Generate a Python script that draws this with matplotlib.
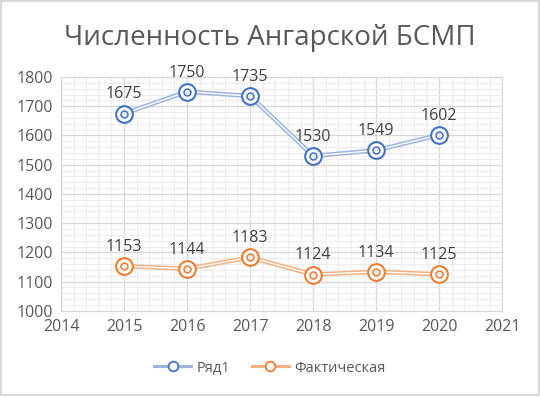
import matplotlib.pyplot as plt
from matplotlib.ticker import MultipleLocator
from matplotlib.patches import Rectangle

plt.rcParams['font.family'] = ['Open Sans', 'DejaVu Sans']

years = [2015, 2016, 2017, 2018, 2019, 2020]
ryad1 = [1675, 1750, 1735, 1530, 1549, 1602]
fakt = [1153, 1144, 1183, 1124, 1134, 1125]

series = [("Ряд1", ryad1, "#4472C4", "#9DB3E0"),
          ("Фактическая", fakt, "#ED7D31", "#F4B183")]

fig = plt.figure(figsize=(5.4, 3.97), dpi=100)
fig.patches.append(Rectangle((0.002, 0.004), 0.996, 0.994, transform=fig.transFigure,
                             fill=False, edgecolor="#D9D9D9", linewidth=1.5))
ax = fig.add_axes([0.113, 0.217, 0.817, 0.589])

for name, vals, dark, light in series:
    # double line: thick coloured line with a thin white line inside
    ax.plot(years, vals, color=light, linewidth=3.2, zorder=3)
    ax.plot(years, vals, color="white", linewidth=1.0, zorder=3)
    ax.plot(years, vals, linestyle="none", marker="o", markersize=12,
            markerfacecolor="white", markeredgecolor=dark, markeredgewidth=1.5, zorder=4)
    ax.plot(years, vals, linestyle="none", marker="o", markersize=5,
            markerfacecolor="#EEEEEE", markeredgecolor=dark, markeredgewidth=1.1, zorder=5)
    for x, y in zip(years, vals):
        ax.annotate(str(y), (x, y), xytext=(0, 8), textcoords="offset points",
                    ha="center", va="bottom", fontsize=11.5, color="#404040")

ax.set_xlim(2014, 2021)
ax.set_ylim(1000, 1800)
ax.xaxis.set_major_locator(MultipleLocator(1))
ax.xaxis.set_minor_locator(MultipleLocator(0.2))
ax.yaxis.set_major_locator(MultipleLocator(100))
ax.yaxis.set_minor_locator(MultipleLocator(20))
ax.grid(which="major", color="#D9D9D9", linewidth=1.0)
ax.grid(which="minor", color="#EDEDED", linewidth=0.8)
ax.set_axisbelow(True)
for s in ax.spines.values():
    s.set_color("#D9D9D9")
ax.tick_params(which="both", length=0, colors="#595959", labelsize=11.5, pad=6)

fig.text(0.5, 0.905, "Численность Ангарской БСМП", fontsize=20, color="#595959",
         ha="center", va="center")

# legend proxies
handles = []
for name, vals, dark, light in series:
    h, = ax.plot([], [], color=light, linewidth=2.2, marker="o", markersize=7,
                 markerfacecolor="white", markeredgecolor=dark, markeredgewidth=1.3, label=name)
    handles.append(h)
fig.legend(handles=handles, loc="center", bbox_to_anchor=(0.5, 0.073), ncol=2,
           frameon=False, fontsize=10.5, labelcolor="#595959", handlelength=2.5,
           columnspacing=1.5, handletextpad=0.4)

fig.savefig("out.png", dpi=100)
